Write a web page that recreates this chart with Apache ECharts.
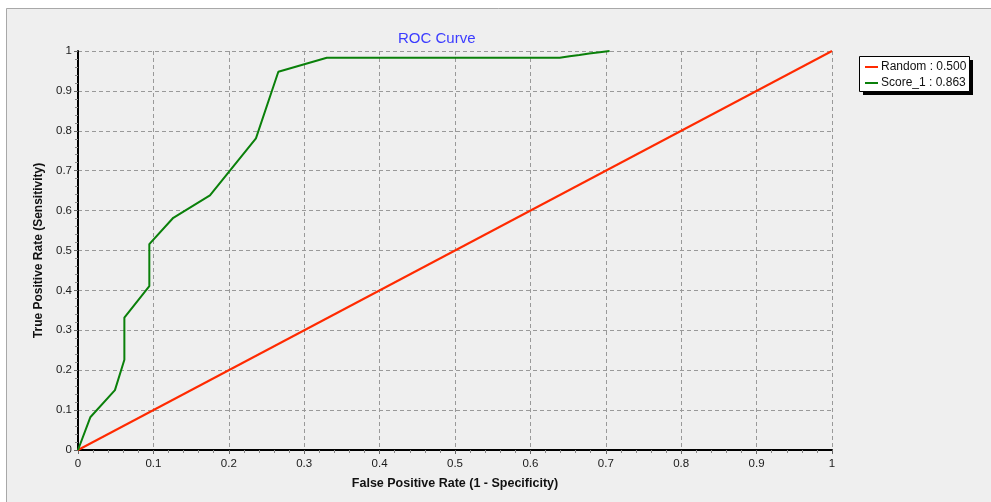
<!DOCTYPE html>
<html>
<head>
<meta charset="utf-8">
<script src="https://cdn.jsdelivr.net/npm/echarts@6/dist/echarts.min.js"></script>
<style>
html,body{margin:0;padding:0;background:#fff;}
#c{width:991px;height:502px;}
</style>
</head>
<body>
<div id="c"></div>
<script>
// Data
const seriesNames = ['Random', 'Score_1'];
const aucValues = ['0.500', '0.863'];
const randomFpr = [0, 1];
const randomTpr = [0, 1];
const scoreFpr = [0, 0.0163, 0.049, 0.0615, 0.0615, 0.0946, 0.0946, 0.1264, 0.175, 0.236, 0.2657, 0.330, 0.639, 0.652, 0.665, 0.678, 0.692, 0.705];
const scoreTpr = [0, 0.082, 0.150, 0.226, 0.332, 0.411, 0.516, 0.582, 0.638, 0.781, 0.948, 0.983, 0.983, 0.987, 0.990, 0.994, 0.997, 1.0];
const xTitle = 'False Positive Rate (1 - Specificity)';
const yTitle = 'True Positive Rate (Sensitivity)';
const chartTitle = 'ROC Curve';

const zip = (a, b) => a.map((v, i) => [v, b[i]]);
const font = 'Liberation Sans, Arial, sans-serif';

const chart = echarts.init(document.getElementById('c'), null, {renderer: 'canvas'});

function axisCommon() {
  return {
    type: 'value', min: 0, max: 1, interval: 0.1,
    axisLine: {show: true, onZero: false, lineStyle: {color: '#000', width: 2}},
    axisTick: {show: true, length: 4, lineStyle: {color: '#666'}},
    minorTick: {show: true, splitNumber: 5, length: 3, lineStyle: {color: '#888'}},
    splitLine: {show: true, lineStyle: {color: '#999', type: [4, 3], width: 1}},
    axisLabel: {color: '#1a1a1a', fontSize: 11.5, fontFamily: font,
      formatter: v => (v === 0 ? '0' : v === 1 ? '1' : v.toFixed(1))},
    nameLocation: 'middle',
    nameTextStyle: {color: '#111', fontSize: 12.5, fontWeight: 'bold', fontFamily: font}
  };
}

const xAxis = Object.assign(axisCommon(), {name: xTitle, nameGap: 27});
xAxis.axisLabel.margin = 8;
const yAxis = Object.assign(axisCommon(), {name: yTitle, nameGap: 30, nameRotate: 90});
yAxis.axisLabel.margin = 6;
yAxis.nameTextStyle.fontSize = 12;

chart.setOption({
  backgroundColor: '#efefef',
  animation: false,
  title: {text: chartTitle, left: 393, top: 26,
    textStyle: {color: '#3b3bff', fontSize: 15, fontWeight: 'normal', fontFamily: font}},
  grid: {left: 78, right: 159, top: 51, bottom: 52, containLabel: false},
  legend: {
    orient: 'vertical', left: 860, top: 57,
    data: seriesNames,
    icon: 'rect', itemWidth: 13, itemHeight: 2, itemGap: 4,
    padding: [4, 4, 4, 5],
    textStyle: {color: '#111', fontSize: 12, fontFamily: font, padding: [0, 0, 0, -2]},
    formatter: name => name + ' : ' + aucValues[seriesNames.indexOf(name)]
  },
  xAxis: xAxis,
  yAxis: yAxis,
  graphic: [
    {type: 'rect', shape: {x: 0, y: 0, width: 991, height: 8}, style: {fill: '#fff'}, silent: true},
    {type: 'rect', shape: {x: 0, y: 0, width: 6, height: 502}, style: {fill: '#fff'}, silent: true},
    {type: 'line', shape: {x1: 6.5, y1: 8.5, x2: 991, y2: 8.5}, style: {stroke: '#a8a8a8', lineWidth: 1}, silent: true},
    {type: 'line', shape: {x1: 6.5, y1: 8.5, x2: 6.5, y2: 502}, style: {stroke: '#a8a8a8', lineWidth: 1}, silent: true},
    {type: 'rect', shape: {x: 863, y: 60, width: 110, height: 35}, style: {fill: '#000'}, silent: true, z: 1},
    {type: 'rect', shape: {x: 859.5, y: 56.5, width: 110, height: 35}, style: {fill: '#fff', stroke: '#000', lineWidth: 1}, silent: true, z: 2}
  ],
  series: [
    {name: seriesNames[0], type: 'line', data: zip(randomFpr, randomTpr), showSymbol: false, symbol: 'none',
      color: '#ff2a00', lineStyle: {color: '#ff2a00', width: 2}, z: 3},
    {name: seriesNames[1], type: 'line', data: zip(scoreFpr, scoreTpr), showSymbol: false, symbol: 'none',
      color: '#0a800a', lineStyle: {color: '#0a800a', width: 2}, z: 4}
  ]
});
</script>
</body>
</html>
